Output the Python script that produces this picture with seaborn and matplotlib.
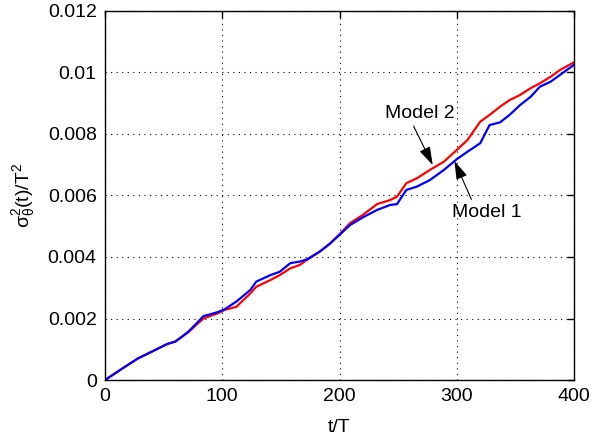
import matplotlib
matplotlib.use("Agg")
import matplotlib.pyplot as plt
import seaborn as sns
import pandas as pd

# values
t_vals = [0, 17, 28, 43, 53, 60, 71, 78, 84, 91, 97, 102, 112, 124, 129, 141, 149,
          158, 166, 172, 183, 192, 200, 209, 220, 232, 243, 249, 257, 266, 277, 289,
          300, 309, 320, 328, 337, 345, 354, 363, 371, 380, 388, 400]
model1 = [0, 0.00043, 0.0007, 0.00098, 0.00117, 0.00125, 0.00157, 0.00184, 0.00208,
          0.00215, 0.00222, 0.0023, 0.00255, 0.00293, 0.0032, 0.00341, 0.00352, 0.0038,
          0.00385, 0.00392, 0.00417, 0.00444, 0.00472, 0.00504, 0.00529, 0.00553, 0.00569,
          0.00572, 0.00618, 0.00629, 0.0065, 0.00683, 0.00718, 0.00742, 0.0077, 0.00829,
          0.00838, 0.00862, 0.00894, 0.00921, 0.00954, 0.0097, 0.00992, 0.01025]
model2 = [0, 0.00043, 0.0007, 0.00098, 0.00117, 0.00125, 0.00155, 0.0018, 0.002,
          0.0021, 0.00218, 0.00228, 0.00238, 0.00282, 0.00303, 0.00325, 0.00341, 0.00363,
          0.00374, 0.0039, 0.00417, 0.00444, 0.00474, 0.0051, 0.00537, 0.00572, 0.00585,
          0.00596, 0.0064, 0.00656, 0.00683, 0.0071, 0.00748, 0.0078, 0.0084, 0.00862,
          0.00889, 0.0091, 0.00927, 0.00949, 0.00965, 0.00986, 0.01008, 0.01033]
x_ticks = [0, 100, 200, 300, 400]
y_ticks = [0, 0.002, 0.004, 0.006, 0.008, 0.01, 0.012]
y_tick_labels = ['0', '0.002', '0.004', '0.006', '0.008', '0.01', '0.012']

df = pd.DataFrame({'t': t_vals + t_vals,
                   'sigma': model2 + model1,
                   'model': ['Model 2'] * len(t_vals) + ['Model 1'] * len(t_vals)})

sns.set_style('white')
plt.rcParams['font.family'] = ['Liberation Sans', 'DejaVu Sans']
plt.rcParams['mathtext.default'] = 'regular'
plt.rcParams['text.color'] = 'black'
plt.rcParams['axes.labelcolor'] = 'black'

fig = plt.figure(figsize=(5.92, 4.43), dpi=100)
ax = fig.add_axes([0.1774, 0.1422, 0.7922, 0.833])

sns.lineplot(data=df, x='t', y='sigma', hue='model',
             palette={'Model 2': '#ff0000', 'Model 1': '#0000ff'},
             linewidth=1.6, legend=False, ax=ax)

ax.set_xlim(0, 400)
ax.set_ylim(0, 0.012)
ax.set_xticks(x_ticks)
ax.set_yticks(y_ticks)
ax.set_yticklabels(y_tick_labels)
ax.grid(True, linestyle=(0, (1, 4)), color='black', linewidth=0.8)
ax.tick_params(direction='in', length=5, width=1, top=True, right=True,
               labelsize=14, colors='black', pad=6)
for s in ax.spines.values():
    s.set_color('black')
    s.set_linewidth(1)

ax.set_xlabel('t/T', fontsize=14, labelpad=10)
ax.set_ylabel(r'$\sigma^2_\theta(t)/T^2$', fontsize=14, labelpad=8)

# arrows start under/over the text, a bit left of its centre
ax.annotate('Model 2', xy=(279.5, 0.00699), xytext=(268.4, 0.00868),
            fontsize=14, ha='center', va='center',
            arrowprops=dict(arrowstyle='-|>,head_length=0.8,head_width=0.25',
                            color='black', lw=0.8, shrinkA=1, shrinkB=0,
                            relpos=(0.38, 0.0)))
ax.annotate('Model 1', xy=(298, 0.00712), xytext=(325.5, 0.00545),
            fontsize=14, ha='center', va='center',
            arrowprops=dict(arrowstyle='-|>,head_length=0.8,head_width=0.25',
                            color='black', lw=0.8, shrinkA=1, shrinkB=0,
                            relpos=(0.31, 1.0)))

plt.savefig('out.png', dpi=100)
